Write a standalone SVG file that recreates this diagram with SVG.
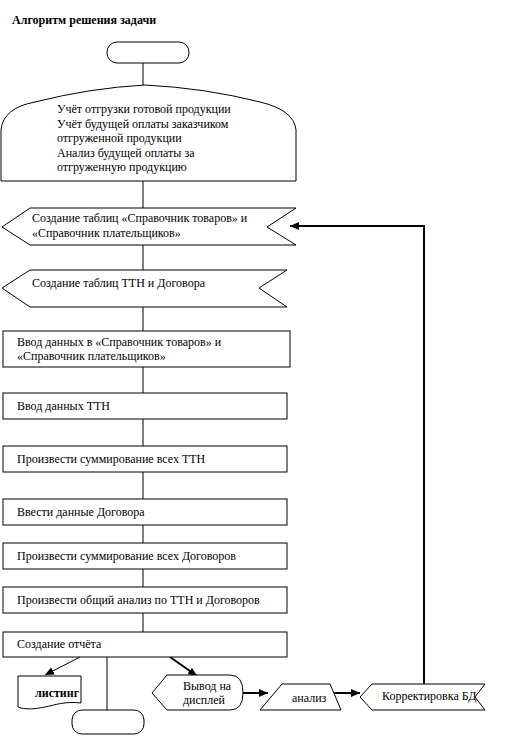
<svg xmlns="http://www.w3.org/2000/svg" width="512" height="736" viewBox="0 0 512 736">
<style>
.s{fill:#fff;stroke:#000;stroke-width:1}
.t{font-family:"Liberation Serif","Times New Roman",serif;font-size:12px;fill:#000}
.b{font-weight:bold}
.c{fill:none;stroke:#000;stroke-width:1}
.k{fill:none;stroke:#000;stroke-width:2}
</style>
<defs>
<marker id="aThin" markerUnits="userSpaceOnUse" markerWidth="10" markerHeight="8" refX="9" refY="4" orient="auto"><path d="M0,0 L9,4 L0,8 Z" fill="#000"/></marker>
<marker id="aThick" markerUnits="userSpaceOnUse" markerWidth="10" markerHeight="8" refX="9" refY="4" orient="auto"><path d="M0,0 L9,4 L0,8 Z" fill="#000"/></marker>
</defs>
<rect width="512" height="736" fill="#fff"/>
<text class="t b" x="12" y="24">Алгоритм решения задачи</text>
<g id="connectors">
<line class="c" x1="143" y1="63" x2="143" y2="85"/>
<line class="c" x1="143" y1="181" x2="143" y2="208"/>
<line class="c" x1="143" y1="245" x2="143" y2="270"/>
<line class="c" x1="143" y1="307" x2="143" y2="331"/>
<line class="c" x1="143" y1="367" x2="143" y2="393"/>
<line class="c" x1="143" y1="419" x2="143" y2="446"/>
<line class="c" x1="143" y1="472" x2="143" y2="499"/>
<line class="c" x1="143" y1="525" x2="143" y2="543"/>
<line class="c" x1="143" y1="569" x2="143" y2="587"/>
<line class="c" x1="143" y1="613" x2="143" y2="632"/>
<line class="c" x1="107" y1="657" x2="107" y2="710"/>
<line class="c" x1="80" y1="657" x2="45" y2="675" marker-end="url(#aThin)"/>
<line class="k" x1="170" y1="657" x2="197" y2="676" marker-end="url(#aThick)"/>
<line class="k" x1="243" y1="693" x2="268" y2="693" marker-end="url(#aThick)"/>
<line class="k" x1="332" y1="693" x2="360" y2="693" marker-end="url(#aThick)"/>
<path class="k" d="M424,684 V226 H290" marker-end="url(#aThick)"/>
</g>
<g id="start">
<rect class="s" x="107" y="42" width="82" height="21" rx="10"/>
</g>
<g id="tasks">
<path class="s" d="M1,181 V130 Q3,108 35,102 Q90,88 145,85 Q205,88 260,102 Q294,110 296,130 V181 Z"/>
<text class="t" x="57" y="113">Учёт отгрузки готовой продукции</text>
<text class="t" x="57" y="128">Учёт будущей оплаты заказчиком</text>
<text class="t" x="57" y="142">отгруженной продукции</text>
<text class="t" x="57" y="157">Анализ будущей оплаты за</text>
<text class="t" x="57" y="171">отгруженную продукцию</text>
</g>
<g id="create1">
<path class="s" d="M30,208 H296 L267,227 L296,245 H30 L2,227 Z"/>
<text class="t" x="32" y="222">Создание таблиц «Справочник товаров» и</text>
<text class="t" x="32" y="237">«Справочник плательщиков»</text>
</g>
<g id="create2">
<path class="s" d="M30,270 H287 L259,288 L287,307 H30 L2,288 Z"/>
<text class="t" x="32" y="287">Создание таблиц ТТН и Договора</text>
</g>
<g id="input1">
<rect class="s" x="3" y="331" width="287" height="36"/>
<text class="t" x="17" y="346">Ввод данных в «Справочник товаров» и</text>
<text class="t" x="17" y="360">«Справочник плательщиков»</text>
</g>
<g id="input2">
<rect class="s" x="3" y="393" width="284" height="26"/>
<text class="t" x="17" y="410">Ввод данных ТТН</text>
</g>
<g id="sum1">
<rect class="s" x="3" y="446" width="284" height="26"/>
<text class="t" x="17" y="463">Произвести суммирование всех ТТН</text>
</g>
<g id="input3">
<rect class="s" x="3" y="499" width="284" height="26"/>
<text class="t" x="17" y="516">Ввести данные Договора</text>
</g>
<g id="sum2">
<rect class="s" x="3" y="543" width="284" height="26"/>
<text class="t" x="17" y="560">Произвести суммирование всех Договоров</text>
</g>
<g id="analysis">
<rect class="s" x="3" y="587" width="284" height="26"/>
<text class="t" x="17" y="604">Произвести общий анализ по ТТН и Договоров</text>
</g>
<g id="report">
<rect class="s" x="3" y="632" width="284" height="25"/>
<text class="t" x="17" y="648">Создание отчёта</text>
</g>
<g id="listing">
<path class="s" d="M18,676 H81 V703 C65,701 55,705 45,707 C35,709 25,710 18,707 Z"/>
<text class="t b" x="35" y="697">листинг</text>
</g>
<g id="end">
<rect class="s" x="72" y="710" width="72" height="24" rx="10"/>
</g>
<g id="display">
<path class="s" d="M152,693 L167,675 H230 Q243,675 243,693 Q243,710 230,710 H167 Z"/>
<text class="t" x="183" y="690">Вывод на</text>
<text class="t" x="183" y="704">дисплей</text>
</g>
<g id="anal">
<path class="s" d="M282,684 H330 L341,710 H260 Z"/>
<text class="t" x="292" y="702">анализ</text>
</g>
<g id="correct">
<path class="s" d="M372,684 H485 L475,697 L485,710 H372 L360,697 Z"/>
<text class="t" x="382" y="700">Корректировка БД</text>
</g>
</svg>
